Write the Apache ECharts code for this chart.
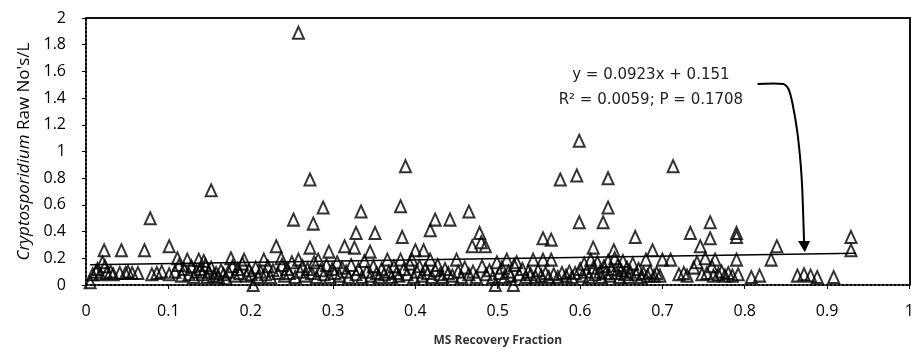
<!DOCTYPE html>
<html>
<head>
<meta charset="utf-8">
<script src="https://cdn.jsdelivr.net/npm/echarts@6.0.0/dist/echarts.min.js"></script>
<style>
  html, body { margin: 0; padding: 0; background: #fff; }
  #chart { width: 917px; height: 353px; }
</style>
</head>
<body>
<div id="chart"></div>
<script>
// ---------- data ----------
const xTitle = 'MS Recovery Fraction';
const yTitleItalic = 'Cryptosporidium';
const yTitleRest = " Raw No's/L";

// MS recovery fraction (x) and Cryptosporidium raw counts per litre (y)
const samples = [
  [0.005,0.02],[0.008,0.08],[0.012,0.10],[0.014,0.12],[0.017,0.08],[0.020,0.17],[0.022,0.26],[0.023,0.14],
  [0.025,0.09],[0.030,0.10],[0.033,0.08],[0.041,0.09],[0.043,0.26],[0.048,0.09],[0.051,0.10],[0.056,0.09],
  [0.063,0.09],[0.071,0.26],[0.078,0.50],[0.080,0.08],[0.086,0.09],[0.092,0.10],[0.101,0.29],[0.101,0.08],
  [0.108,0.10],[0.111,0.20],[0.113,0.15],[0.116,0.07],[0.119,0.12],[0.123,0.19],[0.125,0.08],[0.128,0.14],
  [0.131,0.06],[0.134,0.10],[0.137,0.19],[0.139,0.12],[0.141,0.08],[0.143,0.18],[0.145,0.15],[0.147,0.06],
  [0.149,0.10],[0.152,0.71],[0.152,0.13],[0.155,0.07],[0.158,0.09],[0.161,0.06],[0.164,0.11],[0.167,0.08],
  [0.170,0.05],[0.173,0.10],[0.176,0.20],[0.178,0.14],[0.181,0.07],[0.184,0.12],[0.187,0.09],[0.190,0.16],
  [0.192,0.19],[0.195,0.07],[0.198,0.11],
  [0.201,0.08],[0.203,0.00],[0.206,0.13],[0.209,0.06],[0.212,0.10],[0.216,0.19],[0.218,0.08],[0.221,0.14],
  [0.224,0.06],[0.227,0.11],[0.231,0.29],[0.233,0.09],[0.237,0.20],[0.238,0.15],[0.241,0.07],[0.244,0.12],
  [0.247,0.09],[0.250,0.17],[0.252,0.49],[0.254,0.06],[0.258,1.89],[0.258,0.19],[0.260,0.10],[0.263,0.14],
  [0.266,0.07],[0.269,0.12],[0.272,0.79],[0.272,0.28],[0.274,0.09],[0.276,0.46],[0.277,0.17],[0.280,0.06],
  [0.282,0.19],[0.285,0.11],[0.288,0.58],[0.289,0.08],[0.292,0.15],[0.295,0.25],[0.296,0.06],[0.299,0.12],
  [0.302,0.09],[0.305,0.17],[0.308,0.07],[0.311,0.13],[0.314,0.29],[0.316,0.10],[0.319,0.06],[0.322,0.15],
  [0.326,0.28],[0.328,0.39],[0.328,0.08],[0.331,0.12],[0.334,0.55],[0.335,0.06],[0.338,0.18],[0.341,0.10],
  [0.345,0.25],[0.346,0.07],[0.349,0.14],[0.351,0.39],[0.353,0.09],[0.356,0.06],[0.359,0.12],[0.362,0.08],
  [0.366,0.19],[0.368,0.10],[0.371,0.06],[0.374,0.14],[0.377,0.09],[0.380,0.07],[0.382,0.59],[0.382,0.19],
  [0.384,0.36],[0.386,0.12],[0.388,0.89],[0.390,0.08],[0.393,0.16],[0.396,0.19],[0.398,0.06],
  [0.400,0.26],[0.402,0.10],[0.405,0.14],[0.408,0.07],[0.410,0.26],[0.412,0.12],[0.415,0.09],[0.418,0.41],
  [0.418,0.19],[0.420,0.06],[0.424,0.49],[0.424,0.11],[0.427,0.15],[0.430,0.08],[0.433,0.06],[0.436,0.12],
  [0.440,0.09],[0.442,0.49],[0.445,0.07],[0.450,0.19],[0.452,0.10],[0.456,0.06],[0.460,0.13],[0.465,0.55],
  [0.465,0.08],[0.469,0.29],[0.470,0.10],[0.474,0.06],[0.478,0.39],[0.480,0.32],[0.481,0.14],[0.485,0.29],
  [0.486,0.08],[0.490,0.11],[0.494,0.06],[0.497,0.00],[0.499,0.17],
  [0.502,0.09],[0.505,0.13],[0.508,0.06],[0.511,0.19],[0.513,0.10],[0.516,0.07],[0.519,0.00],[0.520,0.15],
  [0.523,0.17],[0.526,0.08],[0.530,0.12],[0.534,0.06],[0.537,0.10],[0.540,0.08],[0.543,0.19],[0.546,0.06],
  [0.549,0.11],[0.553,0.07],[0.555,0.35],[0.555,0.19],[0.558,0.09],[0.562,0.06],[0.565,0.34],[0.565,0.19],
  [0.568,0.08],[0.573,0.06],[0.576,0.79],[0.578,0.09],[0.583,0.07],[0.587,0.10],[0.590,0.06],[0.594,0.09],
  [0.596,0.82],[0.599,1.08],[0.599,0.47],[0.600,0.12],
  [0.603,0.07],[0.605,0.16],[0.608,0.10],[0.611,0.06],[0.613,0.19],[0.616,0.28],[0.616,0.13],[0.618,0.08],
  [0.621,0.17],[0.624,0.10],[0.626,0.06],[0.628,0.47],[0.629,0.14],[0.631,0.09],[0.634,0.58],[0.634,0.80],
  [0.634,0.18],[0.636,0.07],[0.638,0.12],[0.641,0.26],[0.642,0.20],[0.644,0.09],[0.646,0.15],[0.648,0.06],
  [0.650,0.11],[0.652,0.18],[0.654,0.08],[0.657,0.13],[0.659,0.06],[0.661,0.10],[0.664,0.16],[0.667,0.36],
  [0.668,0.08],[0.671,0.12],[0.674,0.06],[0.677,0.09],[0.680,0.19],[0.682,0.07],[0.685,0.10],[0.688,0.26],
  [0.690,0.07],[0.693,0.09],[0.697,0.07],[0.700,0.19],
  [0.710,0.19],[0.713,0.89],[0.720,0.08],[0.726,0.09],[0.730,0.07],[0.734,0.39],[0.738,0.13],[0.742,0.17],
  [0.746,0.29],[0.748,0.08],[0.752,0.20],[0.754,0.09],[0.758,0.47],[0.758,0.35],[0.760,0.14],[0.762,0.07],
  [0.764,0.19],[0.768,0.08],[0.772,0.10],[0.776,0.07],[0.780,0.09],[0.785,0.07],[0.790,0.39],[0.790,0.36],
  [0.790,0.19],[0.792,0.08],
  [0.808,0.06],[0.818,0.07],[0.832,0.19],[0.839,0.29],[0.864,0.07],[0.872,0.08],[0.880,0.07],[0.888,0.06],
  [0.908,0.06],[0.929,0.36],[0.929,0.26]
];

// linear regression shown in the chart
const trendSlope = 0.0923;
const trendIntercept = 0.151;
const trendX = [0.005, 0.935];
const annotationLines = ['y = 0.0923x + 0.151', 'R\u00B2 = 0.0059; P = 0.1708'];
const annotationAnchor = [0.686, 1.573, 1.386];   // x, y of line 1, y of line 2
// leader line from the equation to the trend line (data coordinates)
const arrowPath = [[0.8155,1.506],[0.847,1.506],[0.853,1.47],[0.858,1.36],[0.864,1.14],[0.868,0.90],[0.870,0.70],[0.872,0.33]];
const arrowTip = [0.873, 0.245];

// ---------- chart ----------
const chart = echarts.init(document.getElementById('chart'), null, { renderer: 'canvas' });
const labelFont = "'Open Sans', 'DejaVu Sans', sans-serif";

const option = {
  animation: false,
  backgroundColor: '#fff',
  grid: { left: 86, right: 2, top: 18, bottom: 68, containLabel: false },
  xAxis: [{
    type: 'value', min: 0, max: 1, interval: 0.1, position: 'bottom',
    axisLine: { show: true, onZero: false, lineStyle: { color: '#000', width: 2, type: 'dotted' } },
    axisTick: { show: true, length: 4, lineStyle: { color: '#000', width: 1 } },
    axisLabel: { fontFamily: labelFont, fontSize: 16, color: '#000', margin: 18,
                 formatter: v => String(+v.toFixed(1)) },
    splitLine: { show: false },
    name: xTitle, nameLocation: 'middle', nameGap: 50,
    nameTextStyle: { fontFamily: labelFont, fontSize: 12, fontWeight: 'bold', color: '#333' }
  }, {
    type: 'value', min: 0, max: 1, position: 'top',
    axisLine: { show: true, onZero: false, lineStyle: { color: '#111', width: 2 } },
    axisTick: { show: false }, axisLabel: { show: false }, splitLine: { show: false }
  }],
  yAxis: [{
    type: 'value', min: 0, max: 2, interval: 0.2, position: 'left',
    axisLine: { show: true, onZero: false, lineStyle: { color: '#000', width: 2, type: 'dotted' } },
    axisTick: { show: true, length: 4, lineStyle: { color: '#000', width: 1 } },
    axisLabel: { fontFamily: labelFont, fontSize: 16, color: '#000', margin: 20,
                 formatter: v => String(+v.toFixed(1)) },
    splitLine: { show: false },
    name: '{i|' + yTitleItalic + '}{n|' + yTitleRest + '}',
    nameLocation: 'middle', nameGap: 52,
    nameTextStyle: {
      fontFamily: labelFont, fontSize: 17, color: '#000',
      rich: {
        i: { fontFamily: labelFont, fontSize: 17, fontStyle: 'italic', color: '#000' },
        n: { fontFamily: labelFont, fontSize: 17, color: '#000' }
      }
    }
  }, {
    type: 'value', min: 0, max: 2, position: 'right',
    axisLine: { show: true, onZero: false, lineStyle: { color: '#111', width: 2 } },
    axisTick: { show: false }, axisLabel: { show: false }, splitLine: { show: false }
  }],
  series: [{
    name: 'Trend', type: 'line', xAxisIndex: 0, yAxisIndex: 0,
    data: trendX.map(x => [x, trendSlope * x + trendIntercept]),
    symbol: 'none', lineStyle: { color: '#000', width: 1.6 }, z: 2, silent: true
  }, {
    name: 'Samples', type: 'scatter', xAxisIndex: 0, yAxisIndex: 0,
    data: samples, symbol: 'triangle', symbolSize: [11, 12],
    itemStyle: { color: 'rgba(0,0,0,0)', borderColor: '#000', borderWidth: 2 },
    z: 3
  }]
};
chart.setOption(option);

function drawAnnotation() {
  const toPx = p => chart.convertToPixel({ xAxisIndex: 0, yAxisIndex: 0 }, p);
  const pts = arrowPath.map(toPx);
  const tip = toPx(arrowTip);
  const base = pts[pts.length - 1];
  const t1 = toPx([annotationAnchor[0], annotationAnchor[1]]);
  const t2 = toPx([annotationAnchor[0], annotationAnchor[2]]);
  const textStyle = { fontFamily: "'DejaVu Sans', sans-serif", fontSize: 15, fill: '#222',
                      align: 'center', verticalAlign: 'middle' };
  chart.setOption({
    graphic: [
      { type: 'polyline', shape: { points: pts, smooth: 0.25 },
        style: { stroke: '#000', lineWidth: 2, fill: null }, z: 10 },
      { type: 'polygon', shape: { points: [[tip[0], tip[1]], [base[0] - 6, base[1]], [base[0] + 6, base[1]]] },
        style: { fill: '#000' }, z: 10 },
      { type: 'text', x: t1[0], y: t1[1], style: Object.assign({ text: annotationLines[0] }, textStyle), z: 10 },
      { type: 'text', x: t2[0], y: t2[1], style: Object.assign({ text: annotationLines[1] }, textStyle), z: 10 }
    ]
  });
}
drawAnnotation();
</script>
</body>
</html>
